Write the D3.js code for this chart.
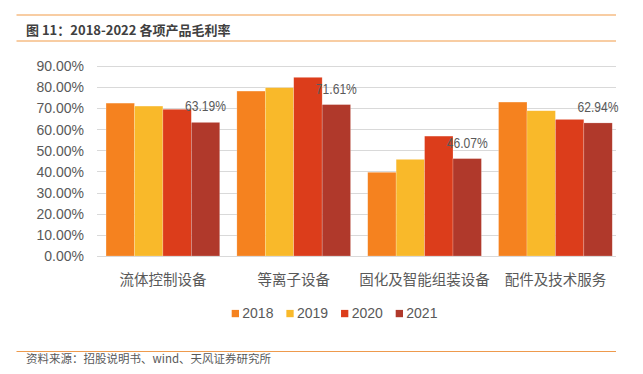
<!DOCTYPE html>
<html><head><meta charset="utf-8">
<script src="https://cdn.jsdelivr.net/npm/d3@7"></script>
<style>
html,body{margin:0;padding:0;background:#fff;}
svg{display:block;}
</style></head>
<body>
<svg id="chart" width="643" height="374"></svg>
<script>
const categories = ["流体控制设备", "等离子设备", "固化及智能组装设备", "配件及技术服务"];
const years = ["2018", "2019", "2020", "2021"];
const v2018 = [72.3, 78.0, 39.6, 72.8];
const v2019 = [70.9, 79.6, 45.7, 68.7];
const v2020 = [69.4, 84.5, 56.7, 64.6];
const v2021 = [63.19, 71.61, 46.07, 62.94];
const yTicks = [0, 10, 20, 30, 40, 50, 60, 70, 80, 90];
const colors = ["#F5821F", "#F9B92A", "#DC3D1B", "#B0392B"];
const title = "图 11：2018-2022 各项产品毛利率";
const source = "资料来源：招股说明书、wind、天风证券研究所";

const series = [v2018, v2019, v2020, v2021];
const svg = d3.select("#chart");
const gray = "#595959";
const latin = "'Liberation Sans', Arial, sans-serif";
const cjk = "'Noto Sans CJK SC', sans-serif";

// header lines & title
svg.append("line").attr("x1", 16.5).attr("x2", 616).attr("y1", 15).attr("y2", 15)
  .attr("stroke", "#F6BC85").attr("stroke-width", 1.6);
svg.append("line").attr("x1", 16.5).attr("x2", 616).attr("y1", 41).attr("y2", 41)
  .attr("stroke", "#F6BC85").attr("stroke-width", 1.6);
svg.append("text").attr("x", 26).attr("y", 34.5).text(title)
  .attr("font-family", cjk).attr("font-size", 13).attr("font-weight", "bold").attr("fill", "#404040");

// footer
svg.append("line").attr("x1", 16.5).attr("x2", 616).attr("y1", 351.5).attr("y2", 351.5)
  .attr("stroke", "#EE9A4D").attr("stroke-width", 1.2);
svg.append("text").attr("x", 26).attr("y", 362.5).text(source)
  .attr("font-family", cjk).attr("font-size", 11.5).attr("fill", gray);

// scales
const y = d3.scaleLinear().domain([0, 90]).range([256, 65.7]);
const x0 = d3.scaleBand().domain(categories).range([99.5, 618.8]).paddingInner(0.131).paddingOuter(0.05);
const x1 = d3.scaleBand().domain(years).range([0, x0.bandwidth()]).padding(0);

// gridlines
svg.append("g").selectAll("line").data(yTicks).join("line")
  .attr("x1", 97).attr("x2", 616)
  .attr("y1", d => Math.round(y(d)) + 0.5).attr("y2", d => Math.round(y(d)) + 0.5)
  .attr("stroke", "#D9D9D9").attr("stroke-width", 1);

// y axis labels
const yAxis = d3.axisLeft(y).tickValues(yTicks).tickSize(0).tickPadding(0)
  .tickFormat(d => d3.format(".2f")(d) + "%");
const ya = svg.append("g").attr("transform", "translate(84,0)").call(yAxis);
ya.select(".domain").remove();
ya.selectAll("text").attr("font-family", latin).attr("font-size", 14).attr("fill", gray).attr("dy", "0.35em");

// bars
const groups = svg.append("g").selectAll("g").data(categories).join("g")
  .attr("transform", d => `translate(${x0(d)},0)`);
groups.selectAll("rect").data((c, i) => years.map((yr, j) => ({yr, j, v: series[j][i]})))
  .join("rect")
  .attr("x", d => x1(d.yr))
  .attr("width", x1.bandwidth())
  .attr("y", d => y(d.v))
  .attr("height", d => y(0) - y(d.v))
  .attr("fill", d => colors[d.j])
  .attr("stroke", "#fff").attr("stroke-opacity", 0.35).attr("stroke-width", 0.6);

// data labels for 2021
groups.append("text")
  .datum((c, i) => v2021[i])
  .attr("x", x1("2021") + x1.bandwidth() / 2)
  .attr("y", d => y(d) - 11)
  .attr("text-anchor", "middle")
  .attr("font-family", latin).attr("font-size", 15).attr("fill", gray)
  .attr("textLength", 41).attr("lengthAdjust", "spacingAndGlyphs")
  .text(d => d3.format(".2f")(d) + "%");

// x axis baseline
svg.append("line").attr("x1", 97).attr("x2", 616).attr("y1", 256.5).attr("y2", 256.5)
  .attr("stroke", "#D9D9D9").attr("stroke-width", 1);

// category labels
svg.append("g").selectAll("text").data(categories).join("text")
  .attr("x", d => x0(d) + x0.bandwidth() / 2)
  .attr("y", 285)
  .attr("text-anchor", "middle")
  .attr("font-family", cjk).attr("font-size", 14.5).attr("fill", gray)
  .text(d => d);

// legend
const lx = d3.scalePoint().domain(years).range([231.7, 395.7]);
const lg = svg.append("g").selectAll("g").data(years).join("g")
  .attr("transform", d => `translate(${lx(d)},313.5)`);
lg.append("rect").attr("x", 0).attr("y", -3.6).attr("width", 7.3).attr("height", 7.3)
  .attr("fill", (d, i) => colors[i]);
lg.append("text").attr("x", 10.6).attr("y", 0).attr("dy", "0.35em")
  .attr("font-family", latin).attr("font-size", 14).attr("fill", gray)
  .text(d => d);
</script>
</body></html>
